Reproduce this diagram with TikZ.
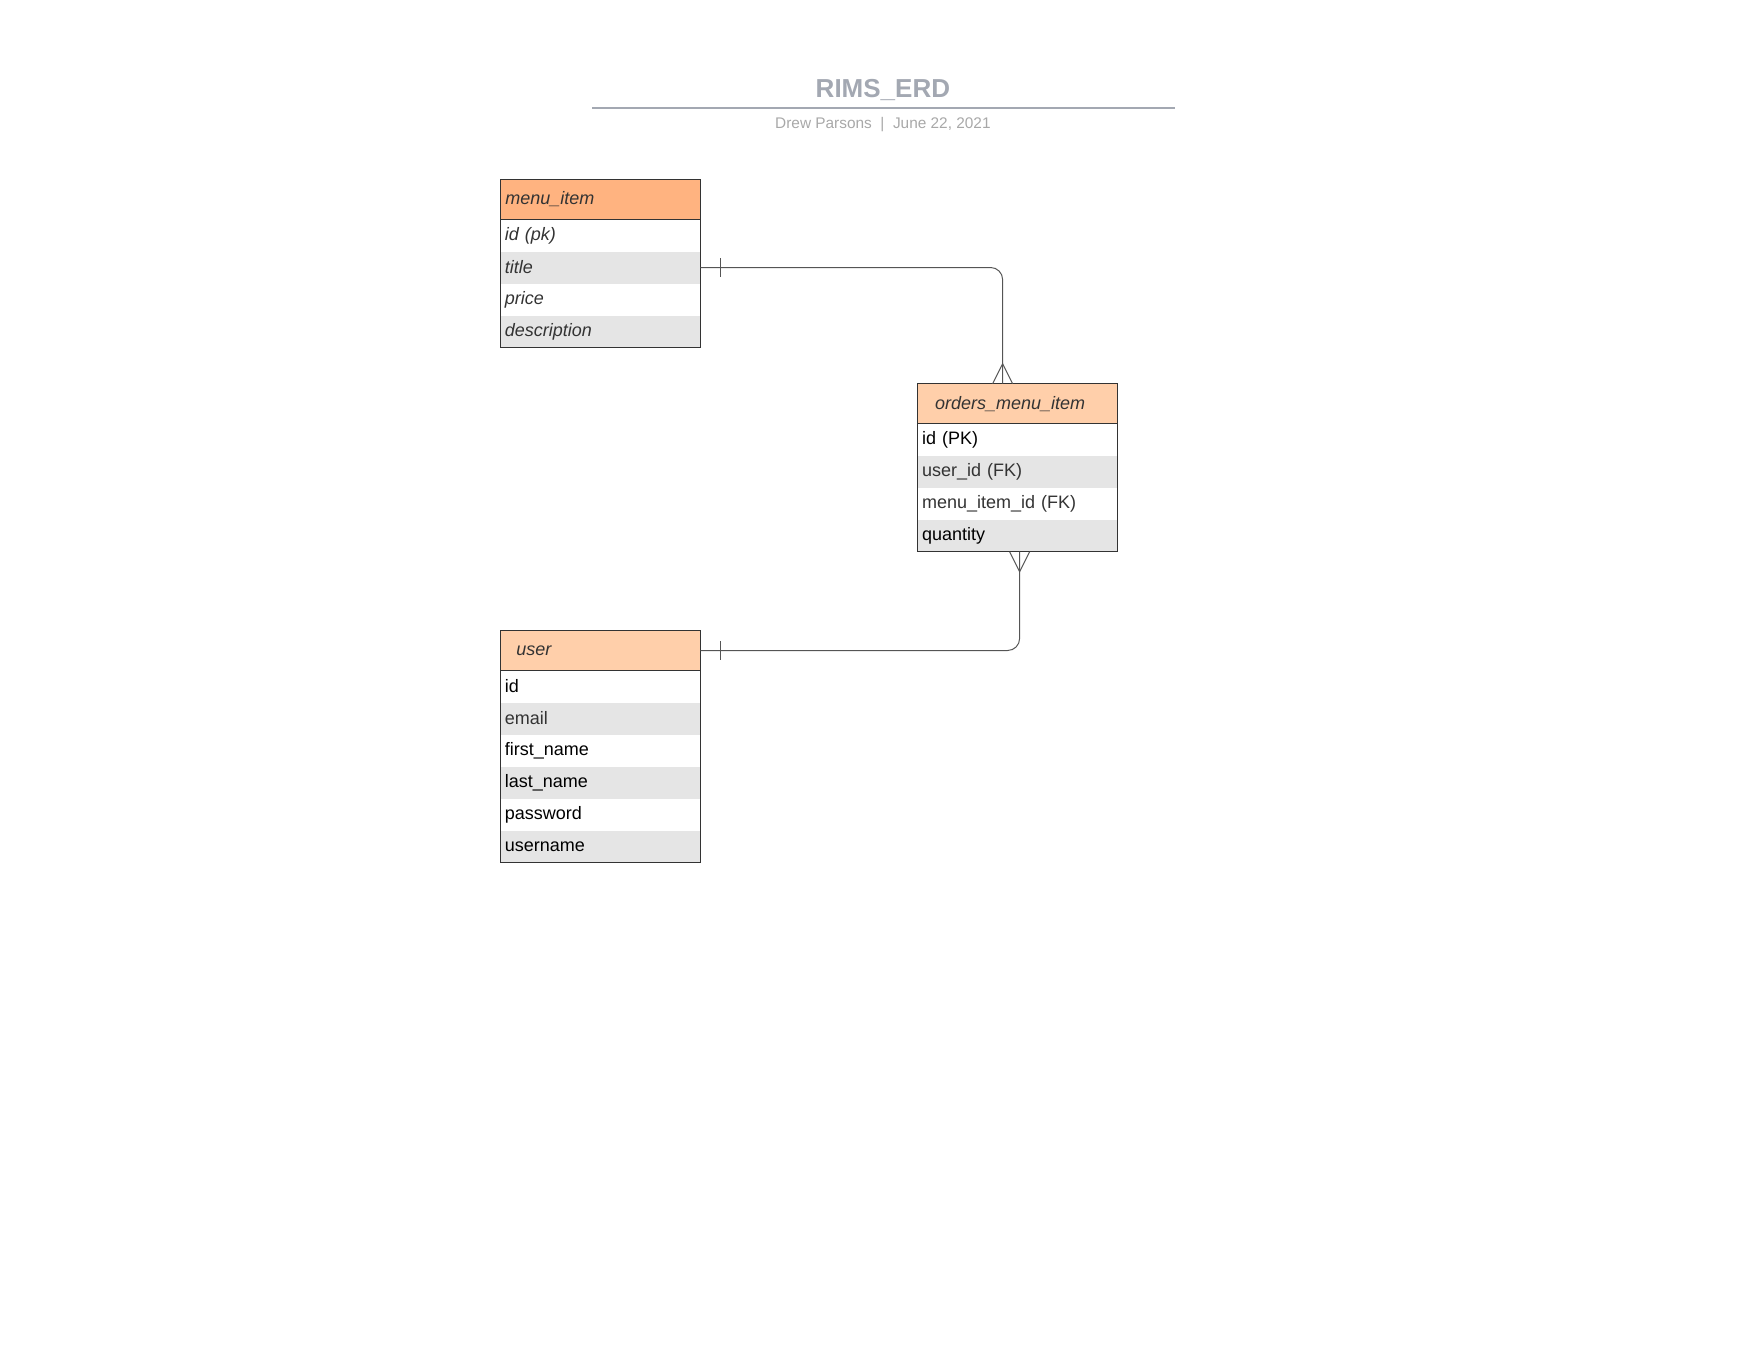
\documentclass[tikz,border=0pt]{standalone}
\usepackage{fontspec}
\setmainfont{Liberation Sans}
\usepackage{xcolor}
\usepackage{tikz}
\usetikzlibrary{positioning}

\definecolor{hdrdark}{HTML}{FFB380}
\definecolor{hdrlight}{HTML}{FFCFAA}
\definecolor{rowgray}{HTML}{E5E5E5}
\definecolor{txtdark}{HTML}{333333}
\definecolor{titlegray}{HTML}{A3A8B2}
\definecolor{subgray}{HTML}{A8A8A8}
\definecolor{linegray}{HTML}{555555}

\tikzset{
  hdr/.style={rectangle, draw=txtdark, line width=0.5pt, minimum width=100pt, minimum height=20pt,
    inner sep=0pt, outer sep=0pt, text width=95pt, align=left, font=\fontsize{9}{11}\selectfont\itshape, text=txtdark},
  fld/.style={rectangle, minimum width=100pt, minimum height=16pt, inner sep=0pt, outer sep=0pt,
    text width=95.5pt, align=left, font=\fontsize{9}{11}\selectfont},
  fldg/.style={fld, fill=rowgray},
  frame/.style={draw=txtdark, line width=0.5pt},
  conn/.style={draw=linegray, line width=0.5pt}
}

\begin{document}
\begin{tikzpicture}[x=0.5pt, y=-0.5pt, node distance=0pt]
\useasboundingbox (0,0) rectangle (1759,1359);

% title block
\node[font=\bfseries\fontsize{13}{15}\selectfont, text=titlegray] (title) at (882.9,89.8) {RIMS\_ERD};
\coordinate (rule-l) at (592.3,107.7);
\coordinate (rule-r) at (1174.5,107.7);
\draw[titlegray, line width=1pt] (rule-l) -- (rule-r);
\node[font=\fontsize{7.7}{9}\selectfont, text=subgray] (sub) at (882.9,124.5) {Drew Parsons\ \ |\ \ June 22, 2021};

% menu_item
\node[hdr, fill=hdrdark, anchor=north west] (mi) at (500.3,179.5) {menu\_item};
\node[fld, text=txtdark, font=\fontsize{9}{11}\selectfont\itshape, below=of mi] (mi-id) {id (pk)};
\node[fldg, text=txtdark, font=\fontsize{9}{11}\selectfont\itshape, below=of mi-id] (mi-title) {title};
\node[fld, text=txtdark, font=\fontsize{9}{11}\selectfont\itshape, below=of mi-title] (mi-price) {price};
\node[fldg, text=txtdark, font=\fontsize{9}{11}\selectfont\itshape, below=of mi-price] (mi-desc) {description};
\draw[frame] (mi.north west) rectangle (mi-desc.south east);

% orders_menu_item
\node[hdr, fill=hdrlight, anchor=north west] (omi) at (917.6,383.7) {\hspace*{6.2pt}orders\_menu\_item};
\node[fld, text=black, below=of omi] (omi-id) {id (PK)};
\node[fldg, text=txtdark, below=of omi-id] (omi-user) {user\_id (FK)};
\node[fld, text=txtdark, below=of omi-user] (omi-mi) {menu\_item\_id (FK)};
\node[fldg, text=black, below=of omi-mi] (omi-qty) {quantity};
\draw[frame] (omi.north west) rectangle (omi-qty.south east);

% user
\node[hdr, fill=hdrlight, anchor=north west] (user) at (500.3,630.5) {\hspace*{5.5pt}user};
\node[fld, text=black, below=of user] (user-id) {id};
\node[fldg, text=txtdark, below=of user-id] (user-email) {email};
\node[fld, text=black, below=of user-email] (user-first) {first\_name};
\node[fldg, text=black, below=of user-first] (user-last) {last\_name};
\node[fld, text=black, below=of user-last] (user-pw) {password};
\node[fldg, text=black, below=of user-pw] (user-name) {username};
\draw[frame] (user.north west) rectangle (user-name.south east);

% relations
\draw[conn, rounded corners=6pt] (mi-title.east) -| ([xshift=-7.5pt]omi.north);
\draw[conn] ([xshift=10pt]mi-title.east) ++(0,-9.5) -- ++(0,19);
\draw[conn] ([xshift=-7.5pt]omi.north) ++(-10,0) -- ++(10,-20) -- ++(10,20);

\draw[conn, rounded corners=6pt] (user.east) -| ([xshift=1pt]omi-qty.south);
\draw[conn] ([xshift=10pt]user.east) ++(0,-9.5) -- ++(0,19);
\draw[conn] ([xshift=1pt]omi-qty.south) ++(-10,0) -- ++(10,20) -- ++(10,-20);
\end{tikzpicture}
\end{document}
